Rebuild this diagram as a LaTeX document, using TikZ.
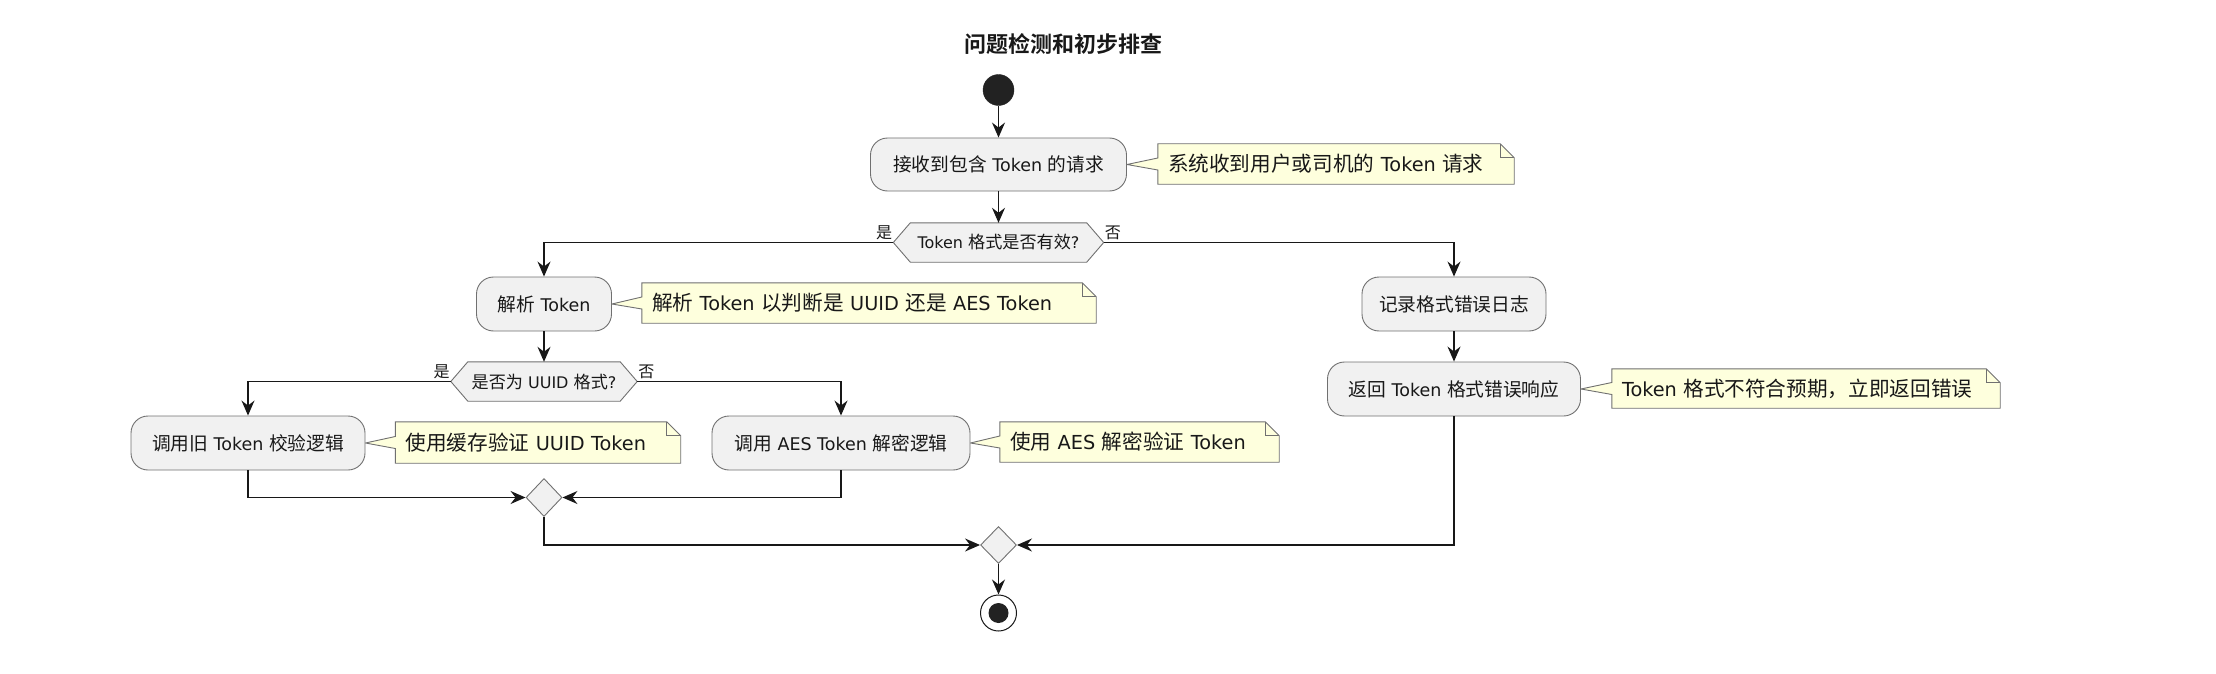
\documentclass[tikz,border=0pt]{standalone}
\usepackage{fontspec}
\setmainfont{DejaVu Sans}
\newfontfamily\cj{Noto Sans CJK SC}[Scale=1.07]
\newfontfamily\cjb{Noto Sans CJK SC Bold}
\usetikzlibrary{arrows.meta,calc,shapes.geometric}
\definecolor{nodefill}{HTML}{F1F1F1}
\definecolor{notefill}{HTML}{FEFFDD}
\definecolor{linec}{HTML}{181818}
\definecolor{borderc}{HTML}{707070}
\definecolor{dotc}{HTML}{222222}
\pgfdeclarelayer{bg}
\pgfsetlayers{bg,main}
\newcommand\zh[1]{{\cj #1}}
\newcommand\notebg[2]{%
  \begin{pgfonlayer}{bg}
  \draw[noteshape] (#1.east) -- ($(#2.west)+(0,6)$) -- (#2.south west) -- (#2.south east)
     -- ($(#2.north east)+(0,14)$) -- ($(#2.north east)+(-14,0)$) -- (#2.north west)
     -- ($(#2.west)+(0,-6)$) -- cycle;
  \draw[noteshape,fill=none] ($(#2.north east)+(-14,0)$) -- ++(0,14) -- ++(14,0);
  \end{pgfonlayer}}
\newcommand\hexbg[1]{%
  \begin{pgfonlayer}{bg}
  \draw[hexshape] (#1.north west) -- (#1.north east) -- ($(#1.east)+(17,0)$) -- (#1.south east)
     -- (#1.south west) -- ($(#1.west)+(-17,0)$) -- cycle;
  \end{pgfonlayer}
  \coordinate (#1l) at ($(#1.west)+(-17,0)$);
  \coordinate (#1r) at ($(#1.east)+(17,0)$);}
\begin{document}
\begin{tikzpicture}[x=1pt,y=-1pt,
  >={Stealth[length=15pt,width=13pt,inset=5pt]},
  act/.style={draw=borderc,line width=0.9pt,fill=nodefill,rounded corners=17pt,inner sep=0pt,
    text=linec,font=\fontsize{17.5}{21}\selectfont},
  notetxt/.style={inner sep=0pt,inner xsep=10pt,align=left,text=linec,minimum height=40pt,
    font=\fontsize{19.3}{23}\selectfont},
  noteshape/.style={draw=borderc,line width=0.9pt,fill=notefill},
  dectxt/.style={inner sep=0pt,minimum height=39pt,text=linec,font=\fontsize{16}{19}\selectfont},
  hexshape/.style={draw=borderc,line width=0.9pt,fill=nodefill},
  merge/.style={diamond,draw=borderc,line width=0.9pt,fill=nodefill,inner sep=0pt,
    minimum width=36pt,minimum height=38pt},
  lbl/.style={inner sep=0pt,text=linec,font=\fontsize{15}{18}\selectfont},
  flow/.style={draw=linec,line width=1.3pt,->}]
\useasboundingbox (0,0) rectangle (2216,674);

\node[text=linec,font=\fontsize{22}{26}\selectfont] (title) at (1063,44) {\cjb 问题检测和初步排查};

\node[circle,fill=dotc,draw=dotc,minimum size=31pt,inner sep=0pt] (start) at (998.5,90) {};

\node[act,minimum width=256pt,minimum height=53pt] (n1) at (998.5,164.5) {\zh{接收到包含} Token \zh{的请求}};
\node[notetxt,text width=336pt] (c1) at (1336,164) {\zh{系统收到用户或司机的} Token \zh{请求}};
\notebg{n1}{c1}

\node[dectxt,minimum width=176pt] (d1) at (998.5,242.5) {Token \zh{格式是否有效}?};
\hexbg{d1}
\node[lbl,anchor=south east] (y1) at ($(d1l)+(-1,-3)$) {\zh{是}};
\node[lbl,anchor=south west] (x1) at ($(d1r)+(1,-3)$) {\zh{否}};

\node[act,minimum width=135pt,minimum height=54pt] (n2) at (544,304) {\zh{解析} Token};
\node[notetxt,text width=434pt] (c2) at (869,303) {\zh{解析} Token \zh{以判断是} UUID \zh{还是} AES Token};
\notebg{n2}{c2}

\node[act,minimum width=184pt,minimum height=54pt] (n3) at (1454,304) {\zh{记录格式错误日志}};

\node[dectxt,minimum width=152pt] (d2) at (544,381.5) {\zh{是否为} UUID \zh{格式}?};
\hexbg{d2}
\node[lbl,anchor=south east] (y2) at ($(d2l)+(-1,-3)$) {\zh{是}};
\node[lbl,anchor=south west] (x2) at ($(d2r)+(1,-3)$) {\zh{否}};

\node[act,minimum width=253pt,minimum height=54pt] (n6) at (1454,389) {\zh{返回} Token \zh{格式错误响应}};
\node[notetxt,text width=368pt,minimum height=39pt] (c6) at (1806,388.5) {Token \zh{格式不符合预期，立即返回错误}};
\notebg{n6}{c6}

\node[act,minimum width=234pt,minimum height=54pt] (n4) at (248,443) {\zh{调用旧} Token \zh{校验逻辑}};
\node[notetxt,text width=265pt,minimum height=41pt] (c4) at (538,442.5) {\zh{使用缓存验证} UUID Token};
\notebg{n4}{c4}

\node[act,minimum width=258pt,minimum height=54pt] (n5) at (841,443) {\zh{调用} AES Token \zh{解密逻辑}};
\node[notetxt,text width=259pt] (c5) at (1139.5,442) {\zh{使用} AES \zh{解密验证} Token};
\notebg{n5}{c5}

\node[merge] (m1) at (544,497.5) {};
\node[merge,minimum height=37pt] (m2) at (998.5,545) {};

\node[circle,draw=linec,line width=1pt,fill=white,minimum size=36pt,inner sep=0pt] (endo) at (998.5,613) {};
\node[circle,fill=dotc,minimum size=20pt,inner sep=0pt] (endi) at (endo.center) {};

\draw[flow] (start) -- (n1);
\draw[flow] (n1) -- (d1);
\draw[flow] (d1l) -| (n2.north);
\draw[flow] (d1r) -| (n3.north);
\draw[flow] (n2) -- (d2);
\draw[flow] (d2l) -| (n4.north);
\draw[flow] (d2r) -| (n5.north);
\draw[flow] (n3) -- (n6);
\draw[flow] (n4.south) |- (m1.west);
\draw[flow] (n5.south) |- (m1.east);
\draw[flow] (m1.south) |- (m2.west);
\draw[flow] (n6.south) |- (m2.east);
\draw[flow] (m2) -- (endo);
\end{tikzpicture}
\end{document}
